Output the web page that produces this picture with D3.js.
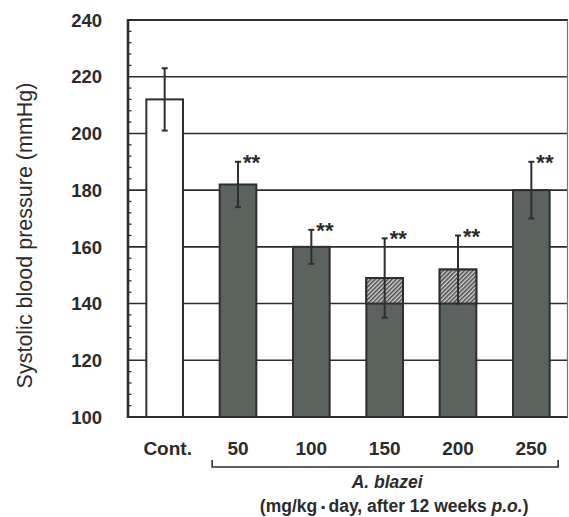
<!DOCTYPE html>
<html>
<head>
<meta charset="utf-8">
<script src="https://cdn.jsdelivr.net/npm/d3@7"></script>
<style>
  html, body { margin: 0; padding: 0; background: #fff; }
  svg { display: block; }
  text { font-family: "Liberation Sans", Arial, sans-serif; fill: #2b2b2b; }
</style>
</head>
<body>
<svg id="chart" width="569" height="517"></svg>
<script>
// Systolic blood pressure after 12 weeks of oral A. blazei
const categories = ["Cont.", "50", "100", "150", "200", "250"];
const meanValues = [212, 182, 160, 149, 152, 180];
const errorValues = [11, 8, 6, 14, 12, 10];
const significance = ["", "**", "**", "**", "**", "**"];
const hatchedTops = ["150", "200"];
const yTicks = [100, 120, 140, 160, 180, 200, 220, 240];
const yLabel = "Systolic blood pressure (mmHg)";
const groupLabel = "A. blazei";

const svg = d3.select("#chart");
const W = 569, H = 517;
const margin = { top: 20, right: 1, bottom: 100, left: 128 };
const innerRight = W - margin.right;
const innerBottom = H - margin.bottom;

const x = d3.scaleBand()
  .domain(categories)
  .range([margin.left, innerRight])
  .paddingInner(0.5)
  .paddingOuter(0.25);

const y = d3.scaleLinear()
  .domain([100, 240])
  .range([innerBottom, margin.top]);

const ink = "#2e2e2e";
const barFill = "#5c635e";

// diagonal hatch used on the upper part of some bars
const defs = svg.append("defs");
const pat = defs.append("pattern")
  .attr("id", "hatch")
  .attr("patternUnits", "userSpaceOnUse")
  .attr("width", 3).attr("height", 3)
  .attr("patternTransform", "rotate(45)");
pat.append("rect").attr("width", 3).attr("height", 3).attr("fill", "#d0d0d0");
pat.append("rect").attr("width", 1.5).attr("height", 3).attr("fill", "#4a4a4a");

// horizontal grid lines (behind bars)
svg.append("g")
  .selectAll("line")
  .data(yTicks.filter(t => t > 100 && t < 240))
  .join("line")
  .attr("x1", margin.left).attr("x2", innerRight)
  .attr("y1", d => y(d)).attr("y2", d => y(d))
  .attr("stroke", ink).attr("stroke-width", 1.6);

// minor inward ticks on the value axis
const minor = d3.range(104, 240, 4).filter(v => v % 20 !== 0);
svg.append("g")
  .selectAll("line")
  .data(minor)
  .join("line")
  .attr("x1", margin.left).attr("x2", margin.left + 3.5)
  .attr("y1", d => y(d)).attr("y2", d => y(d))
  .attr("stroke", ink).attr("stroke-width", 1.3);

// bars
const data = categories.map((c, i) => ({
  cat: c, value: meanValues[i], err: errorValues[i], sig: significance[i]
}));

svg.append("g")
  .selectAll("rect")
  .data(data)
  .join("rect")
  .attr("x", d => x(d.cat))
  .attr("y", d => y(d.value))
  .attr("width", x.bandwidth())
  .attr("height", d => y(100) - y(d.value))
  .attr("fill", (d, i) => i === 0 ? "#fff" : barFill)
  .attr("stroke", ink)
  .attr("stroke-width", 2);

svg.append("g")
  .selectAll("rect")
  .data(data.filter(d => hatchedTops.includes(d.cat)))
  .join("rect")
  .attr("x", d => x(d.cat))
  .attr("y", d => y(d.value))
  .attr("width", x.bandwidth())
  .attr("height", d => y(140) - y(d.value))
  .attr("fill", "url(#hatch)")
  .attr("stroke", ink)
  .attr("stroke-width", 2);

// error bars
const eb = svg.append("g").attr("stroke", ink);
data.forEach(d => {
  const cx = x(d.cat) + x.bandwidth() / 2;
  eb.append("line")
    .attr("x1", cx).attr("x2", cx)
    .attr("y1", y(d.value + d.err)).attr("y2", y(d.value - d.err))
    .attr("stroke-width", 2);
  [d.value + d.err, d.value - d.err].forEach(v => {
    eb.append("line")
      .attr("x1", cx - 3).attr("x2", cx + 3)
      .attr("y1", y(v)).attr("y2", y(v))
      .attr("stroke-width", 2);
  });
});

// significance marks
svg.append("g")
  .selectAll("text")
  .data(data.filter(d => d.sig))
  .join("text")
  .attr("x", d => x(d.cat) + x.bandwidth() / 2 + 5)
  .attr("y", d => y(d.value + d.err) + 8)
  .attr("font-size", 22)
  .attr("font-weight", "bold")
  .text(d => d.sig);

// frame
const frame = svg.append("g").attr("fill", "none");
frame.append("line")
  .attr("x1", margin.left).attr("x2", innerRight)
  .attr("y1", margin.top).attr("y2", margin.top)
  .attr("stroke", ink).attr("stroke-width", 2);
frame.append("line")
  .attr("x1", margin.left).attr("x2", innerRight)
  .attr("y1", innerBottom).attr("y2", innerBottom)
  .attr("stroke", ink).attr("stroke-width", 2.2);
frame.append("line")
  .attr("x1", innerRight - 0.5).attr("x2", innerRight - 0.5)
  .attr("y1", margin.top).attr("y2", innerBottom)
  .attr("stroke", "#777").attr("stroke-width", 1.2);
frame.append("line")
  .attr("x1", margin.left).attr("x2", margin.left)
  .attr("y1", margin.top - 1).attr("y2", innerBottom + 1)
  .attr("stroke", ink).attr("stroke-width", 2.6);

// value axis labels
svg.append("g")
  .selectAll("text")
  .data(yTicks)
  .join("text")
  .attr("x", 102)
  .attr("y", d => y(d))
  .attr("dy", "0.36em")
  .attr("text-anchor", "end")
  .attr("font-size", 18.5)
  .attr("font-weight", "bold")
  .text(d => d);

// category labels
svg.append("g")
  .selectAll("text")
  .data(categories)
  .join("text")
  .attr("x", (d, i) => x(d) + x.bandwidth() / 2 + (i === 0 ? 3 : 0))
  .attr("y", 455)
  .attr("text-anchor", "middle")
  .attr("font-size", 19)
  .attr("font-weight", "bold")
  .text(d => d);

// bracket grouping the dose levels
const bx1 = x("50") - 7.5;
const bx2 = x("250") + x.bandwidth() + 8.5;
svg.append("path")
  .attr("d", `M${bx1},460 V467 H${bx2} V460`)
  .attr("fill", "none")
  .attr("stroke", ink)
  .attr("stroke-width", 1.6);

const midX = (bx1 + bx2) / 2 + 4;
svg.append("text")
  .attr("x", midX - 2)
  .attr("y", 488)
  .attr("text-anchor", "middle")
  .attr("font-size", 17.5)
  .attr("font-weight", "bold")
  .attr("font-style", "italic")
  .text(groupLabel);

const unit = svg.append("text")
  .attr("x", midX + 5)
  .attr("y", 512)
  .attr("text-anchor", "middle")
  .attr("font-size", 17.5)
  .attr("font-weight", "bold");
unit.append("tspan").text("(mg/kg\u2009");
unit.append("tspan").attr("font-size", 12).attr("dy", -1).text("\u25AA");
unit.append("tspan").attr("dy", 1).text("\u2009day, after 12 weeks ");
unit.append("tspan").attr("font-style", "italic").text("p.o.");
unit.append("tspan").text(")");

// value axis title
svg.append("text")
  .attr("transform", `translate(32, ${(margin.top + innerBottom) / 2 + 17}) rotate(-90)`)
  .attr("text-anchor", "middle")
  .attr("font-size", 21.5)
  .attr("fill", "#333")
  .text(yLabel);
</script>
</body>
</html>
